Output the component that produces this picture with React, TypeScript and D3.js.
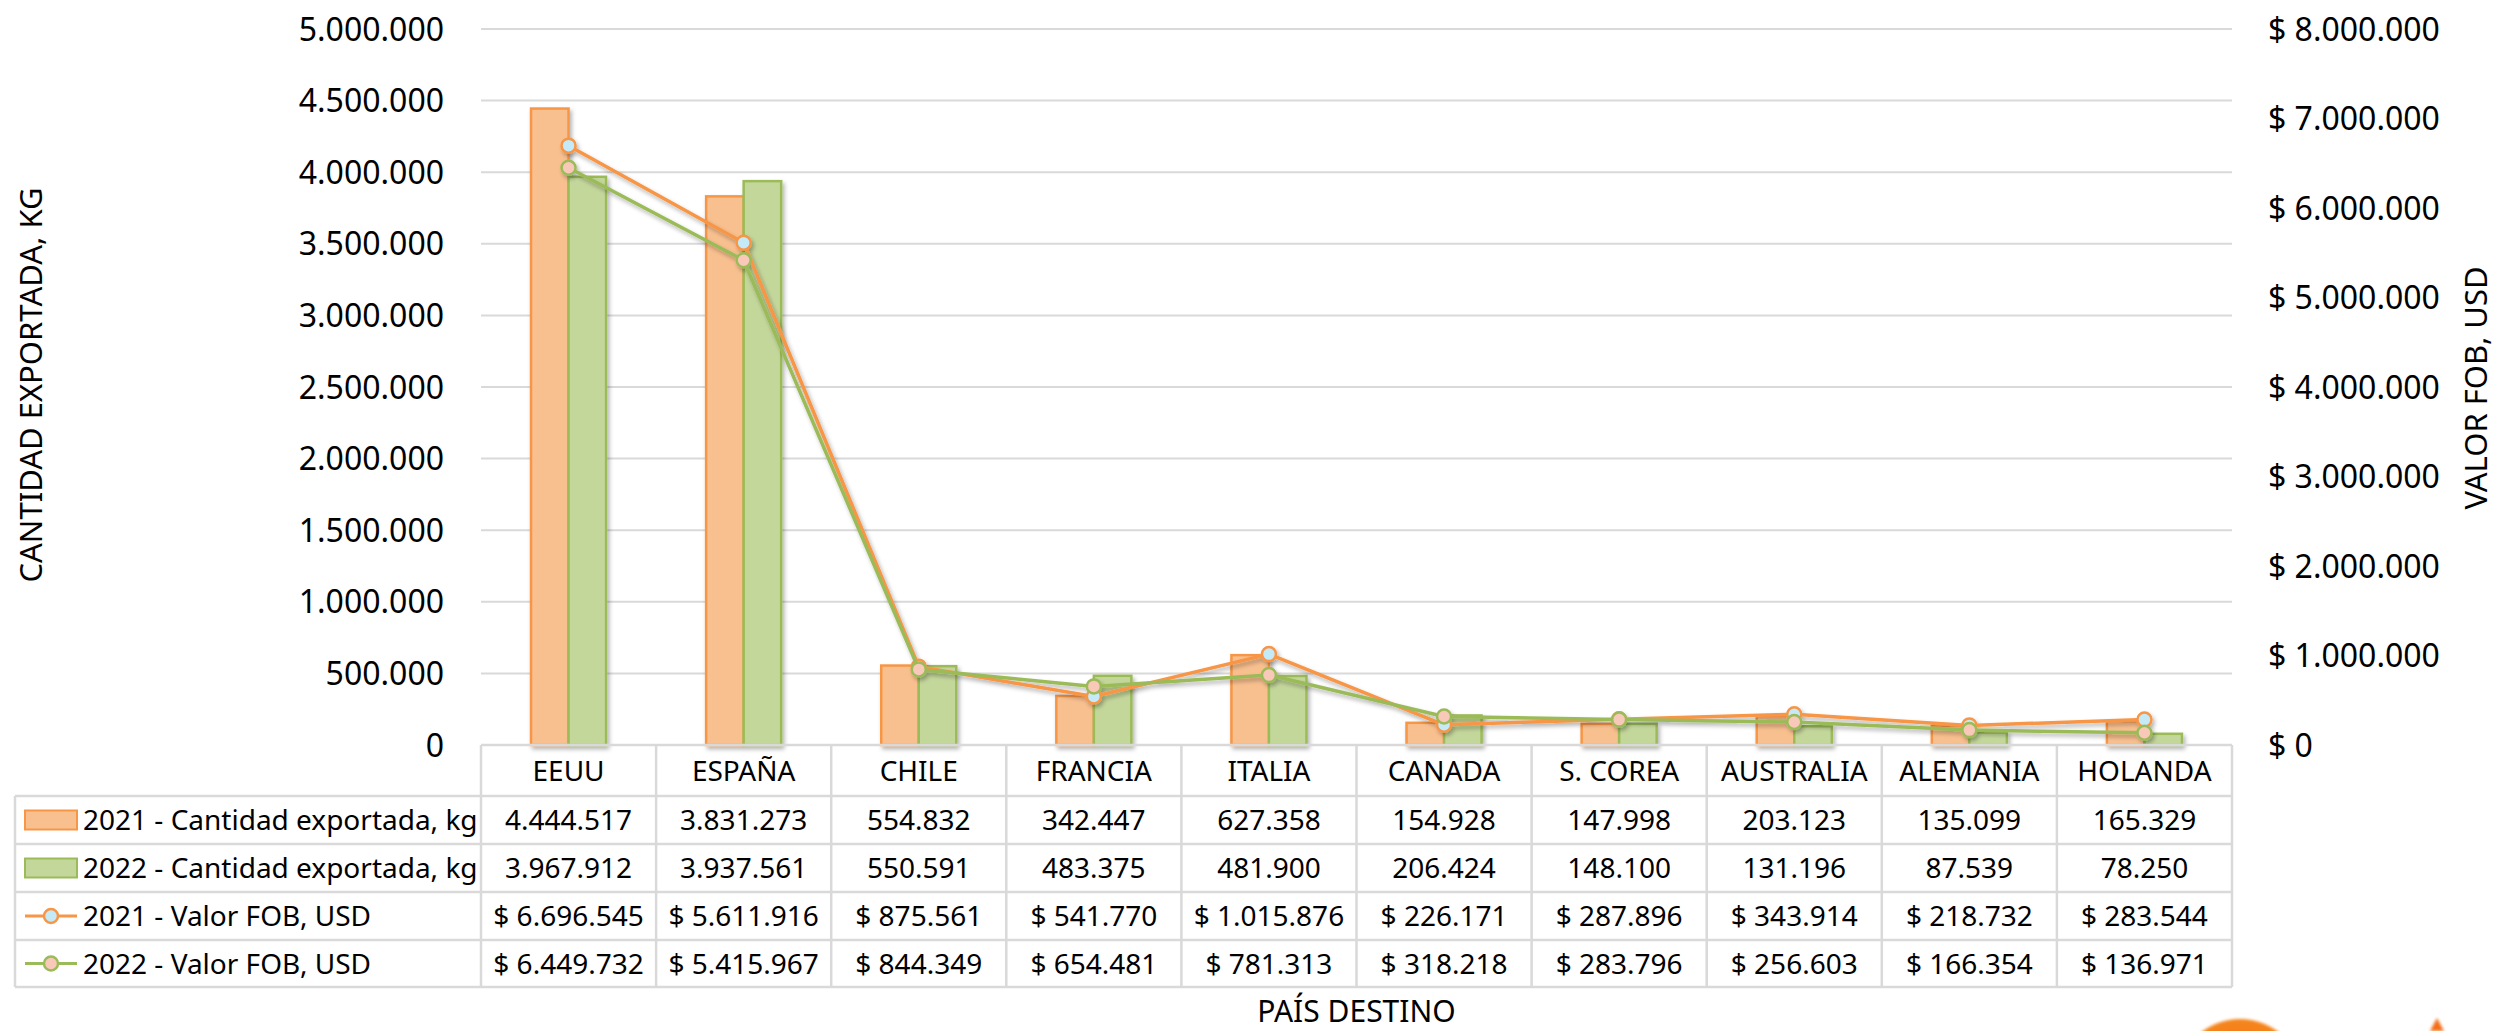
import React from "react";
import * as d3 from "d3";

const categories = ["EEUU", "ESPAÑA", "CHILE", "FRANCIA", "ITALIA", "CANADA", "S. COREA", "AUSTRALIA", "ALEMANIA", "HOLANDA"];
const kg2021 = [4444517, 3831273, 554832, 342447, 627358, 154928, 147998, 203123, 135099, 165329];
const kg2022 = [3967912, 3937561, 550591, 483375, 481900, 206424, 148100, 131196, 87539, 78250];
const fob2021 = [6696545, 5611916, 875561, 541770, 1015876, 226171, 287896, 343914, 218732, 283544];
const fob2022 = [6449732, 5415967, 844349, 654481, 781313, 318218, 283796, 256603, 166354, 136971];
const seriesLabels = ["2021 - Cantidad exportada, kg", "2022 - Cantidad exportada, kg", "2021 - Valor FOB, USD", "2022 - Valor FOB, USD"];
const leftTicks = [0, 500000, 1000000, 1500000, 2000000, 2500000, 3000000, 3500000, 4000000, 4500000, 5000000];
const rightTicks = [0, 1000000, 2000000, 3000000, 4000000, 5000000, 6000000, 7000000, 8000000];

const W = 2498, H = 1031;
const plotL = 481, plotR = 2232, plotT = 29, plotB = 745;
const tableL = 15;
const rowEdges = [745, 796, 844, 892, 940, 987];
const FONT = "'Noto Sans', 'Open Sans', sans-serif";

const ORANGE = "#F79646", ORANGE_FILL = "#F9C08F";
const GREEN = "#9BBB59", GREEN_FILL = "#C4D79B";
const BLUE_M = "#C5EAF7", PINK_M = "#F8C8B8";
const GRID = "#D9D9D9";

const loc = d3.formatLocale({ decimal: ",", thousands: ".", grouping: [3], currency: ["$ ", ""] });
const fmtN = loc.format(",d");
const fmtC = (v: number) => "$ " + fmtN(v);

export default function App() {
  const x = d3.scaleBand<string>().domain(categories).range([plotL, plotR]).paddingInner(100 / 175).paddingOuter(50 / 175);
  const col = d3.scaleBand<string>().domain(categories).range([plotL, plotR]);
  const xs = d3.scaleBand<string>().domain(["2021", "2022"]).range([0, x.bandwidth()]);
  const yL = d3.scaleLinear().domain([0, 5000000]).range([plotB, plotT]);
  const yR = d3.scaleLinear().domain([0, 8000000]).range([plotB, plotT]);
  const cx = (c: string) => (col(c) as number) + col.bandwidth() / 2;

  const line = (vals: number[]) =>
    d3.line<number>().x((_, i) => cx(categories[i])).y((v) => yR(v))(vals) as string;

  const rowsData = [
    { vals: kg2021, fmt: fmtN, kind: "bar", fill: ORANGE_FILL, stroke: ORANGE },
    { vals: kg2022, fmt: fmtN, kind: "bar", fill: GREEN_FILL, stroke: GREEN },
    { vals: fob2021, fmt: fmtC, kind: "line", fill: BLUE_M, stroke: ORANGE },
    { vals: fob2022, fmt: fmtC, kind: "line", fill: PINK_M, stroke: GREEN },
  ];

  return (
    <svg width={W} height={H} style={{ position: "fixed", left: 0, top: 0, background: "#fff" }} fontFamily={FONT}>
      <defs>
        <filter id="sh" x="-20%" y="-20%" width="140%" height="140%">
          <feDropShadow dx="2" dy="3" stdDeviation="2" floodColor="#000" floodOpacity="0.3" />
        </filter>
        <radialGradient id="logo" cx="50%" cy="40%" r="60%">
          <stop offset="0%" stopColor="#F36F12" />
          <stop offset="80%" stopColor="#F58A1F" />
          <stop offset="100%" stopColor="#FBD38A" />
        </radialGradient>
        <filter id="blur"><feGaussianBlur stdDeviation="1.5" /></filter>
      </defs>

      {/* gridlines */}
      {leftTicks.slice(1).map((t) => (
        <line key={t} x1={plotL} x2={plotR} y1={yL(t)} y2={yL(t)} stroke={GRID} strokeWidth={2} />
      ))}

      {/* left axis labels */}
      {leftTicks.map((t) => (
        <text key={t} x={444} y={yL(t)} dy="0.36em" textAnchor="end" fontSize={32} fill="#000">
          {fmtN(t)}
        </text>
      ))}
      {/* right axis labels */}
      {rightTicks.map((t) => (
        <text key={t} x={2268} y={yR(t)} dy="0.36em" textAnchor="start" fontSize={32} fill="#000">
          {fmtC(t)}
        </text>
      ))}

      {/* axis titles */}
      <text transform={`translate(31,385) rotate(-90)`} textAnchor="middle" dy="0.36em" fontSize={31} fill="#000">
        CANTIDAD EXPORTADA, KG
      </text>
      <text transform={`translate(2476,388) rotate(-90)`} textAnchor="middle" dy="0.36em" fontSize={31} fill="#000">
        VALOR FOB, USD
      </text>
      <text x={(plotL + plotR) / 2} y={1022} textAnchor="middle" fontSize={30} fill="#000">
        PAÍS DESTINO
      </text>

      {/* bars */}
      <g filter="url(#sh)">
        {categories.map((c, i) => (
          <g key={c}>
            <rect x={(x(c) as number) + (xs("2021") as number)} y={yL(kg2021[i])} width={xs.bandwidth()} height={plotB - yL(kg2021[i])}
              fill={ORANGE_FILL} stroke={ORANGE} strokeWidth={2.5} />
            <rect x={(x(c) as number) + (xs("2022") as number)} y={yL(kg2022[i])} width={xs.bandwidth()} height={plotB - yL(kg2022[i])}
              fill={GREEN_FILL} stroke={GREEN} strokeWidth={2.5} />
          </g>
        ))}
      </g>

      {/* lines */}
      <g filter="url(#sh)">
        <path d={line(fob2021)} fill="none" stroke={ORANGE} strokeWidth={3.5} strokeLinejoin="round" />
        {fob2021.map((v, i) => (
          <circle key={i} cx={cx(categories[i])} cy={yR(v)} r={7} fill={BLUE_M} stroke={ORANGE} strokeWidth={2.5} />
        ))}
        <path d={line(fob2022)} fill="none" stroke={GREEN} strokeWidth={3.5} strokeLinejoin="round" />
        {fob2022.map((v, i) => (
          <circle key={i} cx={cx(categories[i])} cy={yR(v)} r={7} fill={PINK_M} stroke={GREEN} strokeWidth={2.5} />
        ))}
      </g>

      {/* data table */}
      <g>
        <line x1={plotL} x2={plotR} y1={rowEdges[0]} y2={rowEdges[0]} stroke={GRID} strokeWidth={2.5} />
        {rowEdges.slice(1).map((y) => (
          <line key={y} x1={tableL} x2={plotR} y1={y} y2={y} stroke={GRID} strokeWidth={2.5} />
        ))}
        <line x1={tableL} x2={tableL} y1={rowEdges[1]} y2={rowEdges[5]} stroke={GRID} strokeWidth={2.5} />
        {categories.map((c) => (
          <line key={c} x1={col(c)} x2={col(c)} y1={rowEdges[0]} y2={rowEdges[5]} stroke={GRID} strokeWidth={2.5} />
        ))}
        <line x1={plotR} x2={plotR} y1={rowEdges[0]} y2={rowEdges[5]} stroke={GRID} strokeWidth={2.5} />

        {categories.map((c) => (
          <text key={c} x={cx(c)} y={(rowEdges[0] + rowEdges[1]) / 2 + 10} textAnchor="middle" fontSize={28} fill="#000">
            {c}
          </text>
        ))}

        {rowsData.map((r, ri) => {
          const yc = (rowEdges[ri + 1] + rowEdges[ri + 2]) / 2;
          return (
            <g key={ri}>
              {r.kind === "bar" ? (
                <rect x={25} y={yc - 9.5} width={52} height={19} fill={r.fill} stroke={r.stroke} strokeWidth={2} />
              ) : (
                <g>
                  <line x1={25} x2={77} y1={yc} y2={yc} stroke={r.stroke} strokeWidth={3} />
                  <circle cx={51} cy={yc} r={7} fill={r.fill} stroke={r.stroke} strokeWidth={2.5} />
                </g>
              )}
              <text x={83} y={yc + 10} fontSize={28} fill="#000">
                {seriesLabels[ri]}
              </text>
              {r.vals.map((v, i) => (
                <text key={i} x={cx(categories[i])} y={yc + 10} textAnchor="middle" fontSize={28} fill="#000">
                  {r.fmt(v)}
                </text>
              ))}
            </g>
          );
        })}
      </g>

      {/* partial logo at bottom right */}
      <g filter="url(#blur)">
        <circle cx={2240} cy={1082} r={63} fill="url(#logo)" />
        <path d="M2437,1018 L2444,1031 L2430,1031 Z" fill="#F36F12" />
      </g>
    </svg>
  );
}
